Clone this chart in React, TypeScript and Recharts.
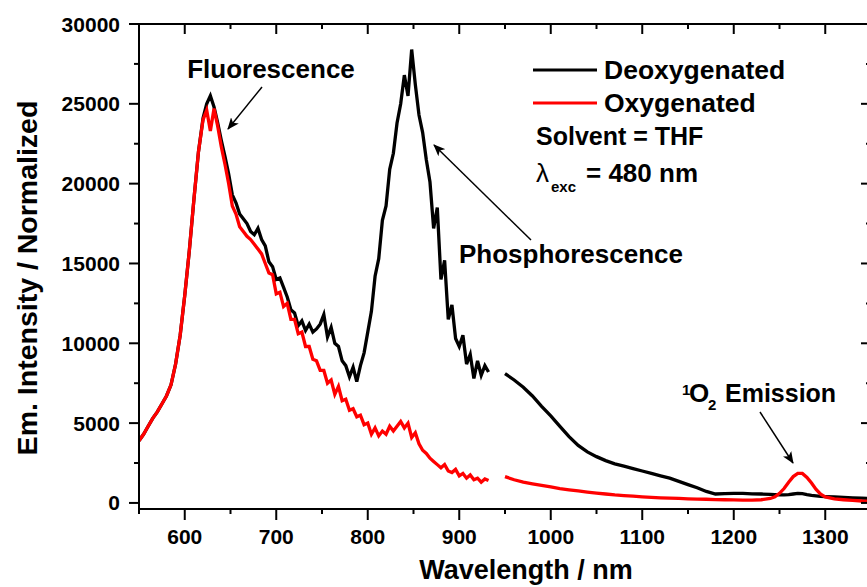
import React from 'react';
import { LineChart, Line, XAxis, YAxis } from 'recharts';

// emission spectra, THF, exc 480 nm (gap in the detector range 933-950 nm)
const wavelength = [
  550, 555, 560, 565, 570, 575, 580, 585, 590, 595, 600, 605, 610, 615, 620,
  624, 628, 632, 636, 640, 644, 648, 652, 656, 660,
  664, 668, 672, 676, 680, 684, 688, 692, 696, 700,
  704, 708, 712, 716, 720, 724, 728, 732, 736, 740,
  744, 748, 752, 756, 760, 764, 768, 772, 776, 780,
  784, 788, 792, 796, 800, 804, 808, 812, 816, 820,
  824, 828, 832, 836, 840, 844, 848, 852, 856, 860,
  864, 868, 872, 876, 880, 884, 888, 892, 896, 900,
  904, 908, 912, 916, 920, 924, 928, 932,
  941,
  950, 960, 970, 980, 990, 1000, 1010, 1020, 1030, 1040,
  1050, 1060, 1070, 1080, 1090, 1100, 1110, 1120, 1130, 1140,
  1150, 1160, 1170, 1180, 1190, 1200, 1210, 1220, 1230,
  1240, 1245, 1250, 1255, 1260, 1265, 1270, 1275, 1280, 1285, 1290, 1295, 1300,
  1310, 1320, 1330, 1340, 1350,
];

const deoxygenated = [
  3900, 4300, 4800, 5300, 5700, 6200, 6700, 7400, 8700, 10500, 13000, 15800, 19000, 22000, 24100,
  25000, 25500, 24800, 23800, 22700, 21700, 20600, 19300, 18800, 18100,
  17800, 17500, 17000, 16800, 17200, 16500, 16100, 15100, 14800, 14000,
  14100, 13500, 12900, 12100, 11900, 11100, 11400, 10800, 11200, 10700,
  10900, 11200, 11800, 10400, 11000, 10000, 9800, 8900, 8600, 7900,
  8500, 7600, 8600, 9400, 10700, 12000, 14200, 15300, 17700, 18600,
  20900, 21900, 23800, 25000, 26800, 25500, 28400, 26200, 24300, 23200,
  21500, 20100, 17200, 18500, 14000, 15200, 11500, 12400, 10300, 9800,
  10500, 8700, 9300, 7800, 8900, 8000, 8600, 8200,
  null,
  8100, 7700, 7250, 6700, 6050, 5450, 4800, 4150, 3600, 3200,
  2900, 2650, 2450, 2300, 2150, 2000, 1850, 1700, 1550, 1350,
  1150, 950, 720, 560, 580, 600, 600, 570, 560,
  530, 520, 500, 510, 520, 560, 600, 580, 520, 470, 440, 410, 400,
  380, 350, 320, 300, 280,
];

const oxygenated = [
  3900, 4300, 4800, 5300, 5700, 6200, 6700, 7400, 8700, 10500, 13000, 15800, 19000, 22000, 24000,
  24600, 23300, 24700, 23600, 22300, 21200, 20000, 18600, 18100, 17300,
  17000, 16700, 16500, 16200, 15900, 15600, 15000, 14400, 14300, 13100,
  13200, 12300, 12500, 11500, 11500, 10600, 10700, 9800, 9800, 9000,
  8900, 8300, 8300, 7500, 7700, 6800, 7300, 6400, 6500, 5800,
  5900, 5400, 5500, 4900, 5000, 4300, 4700, 4200, 4500, 4300,
  4800, 4500, 4800, 5100, 4700, 5000, 4100, 4400, 3700, 3300,
  3100, 2800, 2600, 2400, 2200, 2400, 2000, 1900, 2100, 1700,
  1850, 1550, 1750, 1450, 1550, 1300, 1500, 1400,
  null,
  1650, 1450, 1300, 1200, 1100, 1000, 900, 820, 750, 680,
  620, 560, 500, 460, 420, 380, 350, 320, 300, 280,
  260, 240, 230, 210, 200, 190, 170, 170, 200,
  280, 380, 600, 900, 1300, 1650, 1850, 1850, 1600, 1250, 850, 550, 380,
  250, 200, 160, 120, 100,
];

const xTicks = [550, 600, 650, 700, 750, 800, 850, 900, 950, 1000, 1050, 1100, 1150, 1200, 1250, 1300, 1350];
const yTicks = [0, 2500, 5000, 7500, 10000, 12500, 15000, 17500, 20000, 22500, 25000, 27500, 30000];

const data = wavelength.map((nm, i) => ({
  nm,
  deoxygenated: deoxygenated[i],
  oxygenated: oxygenated[i],
}));

const FONT = '"Liberation Sans", Arial, sans-serif';
const AXIS = { stroke: '#000', strokeWidth: 2 };

function LeftTick({ x, y, payload }: any) {
  const major = payload.value % 5000 === 0;
  return (
    <g>
      <line x1={x - (major ? 10 : 5)} x2={x} y1={y} y2={y} stroke="#000" strokeWidth={2} />
      {major && (
        <text x={x - 19} y={y} dy={7.5} textAnchor="end" fontFamily={FONT} fontWeight="bold" fontSize={21} fill="#000">
          {payload.value}
        </text>
      )}
    </g>
  );
}

function RightTick({ x, y, payload }: any) {
  const major = payload.value % 5000 === 0;
  return <line x1={x - (major ? 10 : 5)} x2={x} y1={y} y2={y} stroke="#000" strokeWidth={2} />;
}

function BottomTick({ x, y, payload }: any) {
  const major = payload.value % 100 === 0;
  const labelled = major && payload.value > 550 && payload.value < 1350;
  return (
    <g>
      <line x1={x} x2={x} y1={y} y2={y + (major ? 11 : 5)} stroke="#000" strokeWidth={2} />
      {labelled && (
        <text x={x} y={y} dy={35} textAnchor="middle" fontFamily={FONT} fontWeight="bold" fontSize={21} fill="#000">
          {payload.value}
        </text>
      )}
    </g>
  );
}

function TopTick({ x, y, payload }: any) {
  const major = payload.value % 100 === 0;
  return <line x1={x} x2={x} y1={y} y2={y + (major ? 10 : 5)} stroke="#000" strokeWidth={2} />;
}

function Overlay() {
  const t = { fontFamily: FONT, fontWeight: 'bold' as const, fill: '#000' };
  return (
    <svg width={867} height={587} style={{ position: 'absolute', left: 0, top: 0, pointerEvents: 'none' }}>
      <defs>
        <marker id="head" markerWidth="12" markerHeight="10" refX="11" refY="5" orient="auto" markerUnits="userSpaceOnUse">
          <path d="M0,0 L12,5 L0,10 L3,5 z" fill="#000" />
        </marker>
      </defs>

      {/* axis titles */}
      <text x={526} y={579} textAnchor="middle" fontSize={27} {...t}>Wavelength / nm</text>
      <text transform="translate(37 278) rotate(-90)" textAnchor="middle" fontSize={28.5} {...t}>
        Em. Intensity / Normalized
      </text>

      {/* legend */}
      <line x1={533} x2={597} y1={70} y2={70} stroke="#000" strokeWidth={3} />
      <text x={604} y={79} fontSize={26.5} {...t}>Deoxygenated</text>
      <line x1={533} x2={597} y1={103} y2={103} stroke="#ff0000" strokeWidth={3} />
      <text x={604} y={112} fontSize={26.5} {...t}>Oxygenated</text>
      <text x={536} y={145} fontSize={25} {...t}>Solvent = THF</text>
      <text x={536} y={182} fontSize={26} fontFamily={FONT} fill="#000">λ</text>
      <text x={551} y={192} fontSize={15} {...t}>exc</text>
      <text x={586} y={182} fontSize={26} {...t}>= 480 nm</text>

      {/* annotations */}
      <text x={271} y={78} textAnchor="middle" fontSize={26} {...t}>Fluorescence</text>
      <line x1={262} y1={87} x2={228} y2={129} stroke="#000" strokeWidth={1.5} markerEnd="url(#head)" />

      <text x={459} y={263} fontSize={26} {...t}>Phosphorescence</text>
      <line x1={531} y1={240} x2={434} y2={145} stroke="#000" strokeWidth={1.5} markerEnd="url(#head)" />

      <text x={682} y={395} fontSize={15} {...t}>1</text>
      <text x={689} y={402} fontSize={26} {...t}>O</text>
      <text x={708} y={410} fontSize={15} {...t}>2</text>
      <text x={725} y={402} fontSize={25} {...t}>Emission</text>
      <line x1={760} y1={412} x2={793} y2={463} stroke="#000" strokeWidth={1.5} markerEnd="url(#head)" />
    </svg>
  );
}

export default function App() {
  return (
    <div style={{ position: 'absolute', left: 0, top: 0, width: 867, height: 587, overflow: 'hidden', background: '#fff' }}>
      <LineChart width={880} height={587} data={data} margin={{ top: 0, right: 8, bottom: 0, left: 0 }}>
        <XAxis
          xAxisId="bottom"
          dataKey="nm"
          type="number"
          domain={[550, 1350]}
          allowDataOverflow
          ticks={xTicks}
          interval={0}
          height={78}
          axisLine={AXIS}
          tickLine={false}
          tickSize={0}
          tickMargin={0}
          tick={BottomTick}
        />
        <XAxis
          xAxisId="top"
          orientation="top"
          dataKey="nm"
          type="number"
          domain={[550, 1350]}
          allowDataOverflow
          ticks={xTicks}
          interval={0}
          height={24}
          axisLine={AXIS}
          tickLine={false}
          tickSize={0}
          tickMargin={0}
          tick={TopTick}
        />
        <YAxis
          yAxisId="left"
          type="number"
          domain={[-380, 30000]}
          allowDataOverflow
          ticks={yTicks}
          interval={0}
          width={139}
          axisLine={AXIS}
          tickLine={false}
          tickSize={0}
          tickMargin={0}
          tick={LeftTick}
        />
        <YAxis
          yAxisId="right"
          orientation="right"
          type="number"
          domain={[-380, 30000]}
          allowDataOverflow
          ticks={yTicks}
          interval={0}
          width={1}
          axisLine={AXIS}
          tickLine={false}
          tickSize={0}
          tickMargin={0}
          tick={RightTick}
        />
        <Line
          xAxisId="bottom"
          yAxisId="left"
          type="linear"
          dataKey="deoxygenated"
          stroke="#000000"
          strokeWidth={3.3}
          dot={false}
          connectNulls={false}
          isAnimationActive={false}
        />
        <Line
          xAxisId="bottom"
          yAxisId="left"
          type="linear"
          dataKey="oxygenated"
          stroke="#ff0000"
          strokeWidth={3.3}
          dot={false}
          connectNulls={false}
          isAnimationActive={false}
        />
      </LineChart>
      <Overlay />
    </div>
  );
}
